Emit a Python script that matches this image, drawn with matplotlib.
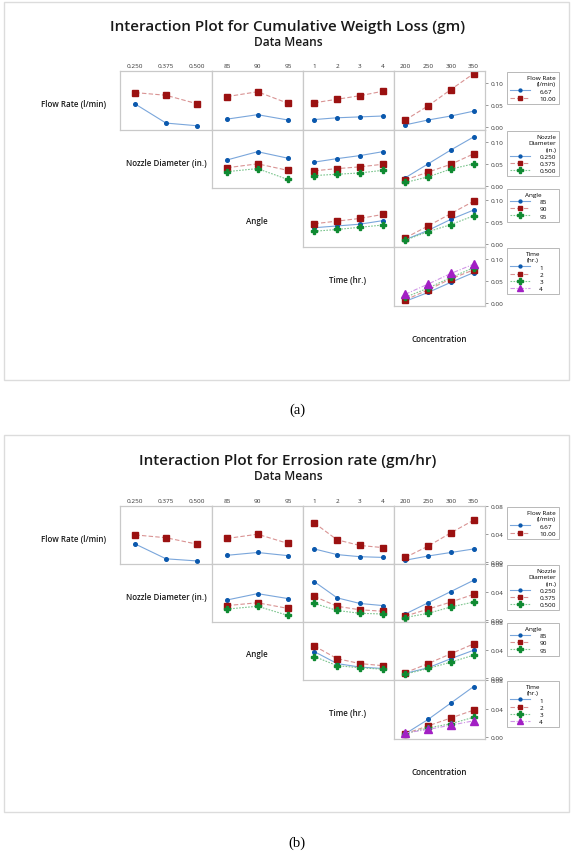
import numpy as np
import matplotlib.pyplot as plt
from matplotlib.patches import Rectangle

plt.rcParams['font.family'] = ['Open Sans', 'Noto Sans', 'DejaVu Sans']

# factor levels
flow_levels = ["6.67", "10.00"]
nozzle_levels = ["0.250", "0.375", "0.500"]
angle_levels = ["85", "90", "95"]
time_levels = ["1", "2", "3", "4"]
conc_levels = ["200", "250", "300", "350"]

# (a) cumulative weight loss, one list per row-factor level
wl_flow_nozzle = [[0.053, 0.010, 0.004], [0.079, 0.073, 0.054]]
wl_flow_angle = [[0.019, 0.029, 0.017], [0.070, 0.081, 0.055]]
wl_flow_time = [[0.018, 0.022, 0.024, 0.026], [0.056, 0.064, 0.072, 0.082]]
wl_flow_conc = [[0.006, 0.017, 0.026, 0.037], [0.017, 0.049, 0.086, 0.122]]
wl_nozzle_angle = [[0.059, 0.078, 0.063], [0.041, 0.050, 0.035], [0.032, 0.039, 0.014]]
wl_nozzle_time = [[0.054, 0.062, 0.069, 0.078], [0.034, 0.039, 0.043, 0.049],
                  [0.023, 0.026, 0.029, 0.035]]
wl_nozzle_conc = [[0.018, 0.050, 0.082, 0.112], [0.013, 0.031, 0.049, 0.073],
                  [0.007, 0.020, 0.038, 0.050]]
wl_angle_time = [[0.038, 0.042, 0.046, 0.054], [0.047, 0.053, 0.059, 0.068],
                 [0.030, 0.034, 0.039, 0.044]]
wl_angle_conc = [[0.011, 0.032, 0.057, 0.078], [0.015, 0.042, 0.070, 0.098],
                 [0.010, 0.029, 0.045, 0.065]]
wl_time_conc = [[0.005, 0.025, 0.048, 0.070], [0.008, 0.031, 0.056, 0.076],
                [0.014, 0.035, 0.059, 0.081], [0.021, 0.044, 0.068, 0.089]]

# (b) erosion rate
er_flow_nozzle = [[0.026, 0.005, 0.002], [0.039, 0.035, 0.026]]
er_flow_angle = [[0.010, 0.014, 0.0095], [0.034, 0.040, 0.027]]
er_flow_time = [[0.019, 0.011, 0.008, 0.007], [0.056, 0.032, 0.024, 0.021]]
er_flow_conc = [[0.003, 0.009, 0.014, 0.019], [0.007, 0.023, 0.042, 0.060]]
er_nozzle_angle = [[0.029, 0.038, 0.031], [0.021, 0.025, 0.017], [0.016, 0.020, 0.007]]
er_nozzle_time = [[0.055, 0.032, 0.024, 0.021], [0.034, 0.020, 0.015, 0.013],
                  [0.024, 0.014, 0.010, 0.009]]
er_nozzle_conc = [[0.009, 0.025, 0.041, 0.057], [0.006, 0.016, 0.026, 0.037],
                  [0.004, 0.010, 0.019, 0.026]]
er_angle_time = [[0.038, 0.021, 0.016, 0.014], [0.046, 0.028, 0.021, 0.018],
                 [0.031, 0.018, 0.015, 0.013]]
er_angle_conc = [[0.007, 0.015, 0.028, 0.040], [0.008, 0.021, 0.035, 0.049],
                 [0.006, 0.014, 0.023, 0.033]]
er_time_conc = [[0.005, 0.025, 0.048, 0.071], [0.005, 0.016, 0.027, 0.038],
                [0.005, 0.013, 0.019, 0.028], [0.006, 0.011, 0.017, 0.023]]

factor_names = ["Flow Rate (l/min)", "Nozzle Diameter (in.)", "Angle", "Time (hr.)",
                "Concentration"]
factor_levels = [flow_levels, nozzle_levels, angle_levels, time_levels, conc_levels]
legend_titles = ["Flow Rate\n(l/min)", "Nozzle\nDiameter\n(in.)", "Angle", "Time\n(hr.)"]
legend_align = ["right", "right", "center", "center"]

W, H = 574, 854
fig = plt.figure(figsize=(W / 100, H / 100), dpi=100)

def fx(x):
    return x / W

def fy(y):
    return 1 - y / H

styles = [
    dict(color='#7aa6db', mfc='#0a58ad', mec='#0a58ad', marker='o', ms=2.6, ls='-'),
    dict(color='#d99393', mfc='#9b1111', mec='#9b1111', marker='s', ms=4.3, ls=(0, (4, 2))),
    dict(color='#7cc58e', mfc='#0f8a32', mec='#0f8a32', marker='P', ms=4.8, ls=(0, (1.5, 1.2))),
    dict(color='#cf95e6', mfc='#a21fc4', mec='#a21fc4', marker='^', ms=5.2,
         ls=(0, (4, 1.5, 1, 1.5))),
]

col_x = [120, 212, 303, 394, 485]
grid_gray = '#c9c9c9'
text_col = '#1a1a1a'


def draw_panel(frame, title, title_y, row_y, cells, ylim, yticks, ylabels):
    fig.add_artist(Rectangle((fx(frame[0]), fy(frame[3])), fx(frame[2] - frame[0]),
                             (frame[3] - frame[1]) / H, transform=fig.transFigure,
                             fill=False, ec='#dcdcdc', lw=1.0))
    fig.text(fx(288), fy(title_y), title, ha='center', va='center', fontsize=11,
             weight=600, color=text_col)
    fig.text(fx(288), fy(title_y + 16), "Data Means", ha='center', va='center',
             fontsize=8.6, weight=600, color=text_col)
    # factor names on the diagonal
    label_x = [74, 166, 257, 348, 439]
    for r in range(5):
        y0 = row_y[r]
        y1 = row_y[r + 1] if r < 4 else row_y[4] + (row_y[4] - row_y[3])
        fig.text(fx(label_x[r]), fy((y0 + y1) / 2 + 3), factor_names[r], ha='center',
                 va='center', fontsize=5.8, weight=600, color=text_col)
    for r in range(4):
        for c in range(r, 4):
            ax = fig.add_axes([fx(col_x[c]), fy(row_y[r + 1]), fx(col_x[c + 1] - col_x[c]),
                               (row_y[r + 1] - row_y[r]) / H])
            xl = factor_levels[c + 1]
            for i, vals in enumerate(cells[(r, c)]):
                ax.plot(xl, vals, lw=0.8, label=factor_levels[r][i], **styles[i])
            ax.set_xlim(-0.5, len(xl) - 0.5)
            ax.set_ylim(*ylim)
            for s in ax.spines.values():
                s.set_color(grid_gray)
                s.set_linewidth(0.9)
            ax.tick_params(length=0, labelsize=4.6, colors='#333333')
            if r == 0:
                ax.xaxis.tick_top()
                ax.tick_params(axis='x', pad=2.2)
            else:
                ax.set_xticks([])
            if c == 3:
                ax.yaxis.tick_right()
                ax.set_yticks(yticks, ylabels)
                ax.tick_params(axis='y', length=2.5, width=0.6, color='#888888', pad=1.5)
                h, lab = ax.get_legend_handles_labels()
                leg = fig.legend(h, lab, title=legend_titles[r], loc='upper left',
                                 bbox_to_anchor=(fx(507), fy(row_y[r] + 1), fx(52), 0),
                                 mode='expand', borderaxespad=0, fontsize=4.6,
                                 title_fontsize=4.6, alignment=legend_align[r],
                                 handlelength=3.2, handletextpad=1.4, labelspacing=0.28,
                                 markerscale=0.8, borderpad=0.45, fancybox=False,
                                 framealpha=1, edgecolor='#b8b8b8')
                leg.get_frame().set_linewidth(0.7)
                leg.get_title().set_multialignment(legend_align[r])
                leg.get_title().set_linespacing(1.35)
            else:
                ax.set_yticks([])


cells_a = {(0, 0): wl_flow_nozzle, (0, 1): wl_flow_angle, (0, 2): wl_flow_time,
           (0, 3): wl_flow_conc, (1, 1): wl_nozzle_angle, (1, 2): wl_nozzle_time,
           (1, 3): wl_nozzle_conc, (2, 2): wl_angle_time, (2, 3): wl_angle_conc,
           (3, 3): wl_time_conc}
cells_b = {(0, 0): er_flow_nozzle, (0, 1): er_flow_angle, (0, 2): er_flow_time,
           (0, 3): er_flow_conc, (1, 1): er_nozzle_angle, (1, 2): er_nozzle_time,
           (1, 3): er_nozzle_conc, (2, 2): er_angle_time, (2, 3): er_angle_conc,
           (3, 3): er_time_conc}

draw_panel((4, 3, 569, 381), "Interaction Plot for Cumulative Weigth Loss (gm)", 27,
           [72, 131, 189, 248, 307], cells_a, (-0.0057, 0.128),
           [0.0, 0.05, 0.10], ["0.00", "0.05", "0.10"])
draw_panel((4, 436, 569, 813), "Interaction Plot for Errosion rate (gm/hr)", 461,
           [507, 565, 623, 681, 740], cells_b, (-0.0024, 0.0802),
           [0.0, 0.04, 0.08], ["0.00", "0.04", "0.08"])

fig.text(fx(297), fy(410), "(a)", ha='center', va='center', fontsize=10.5,
         family=['Liberation Serif', 'DejaVu Serif'])
fig.text(fx(297), fy(843), "(b)", ha='center', va='center', fontsize=10.5,
         family=['Liberation Serif', 'DejaVu Serif'])

fig.savefig("out.png", dpi=100)
